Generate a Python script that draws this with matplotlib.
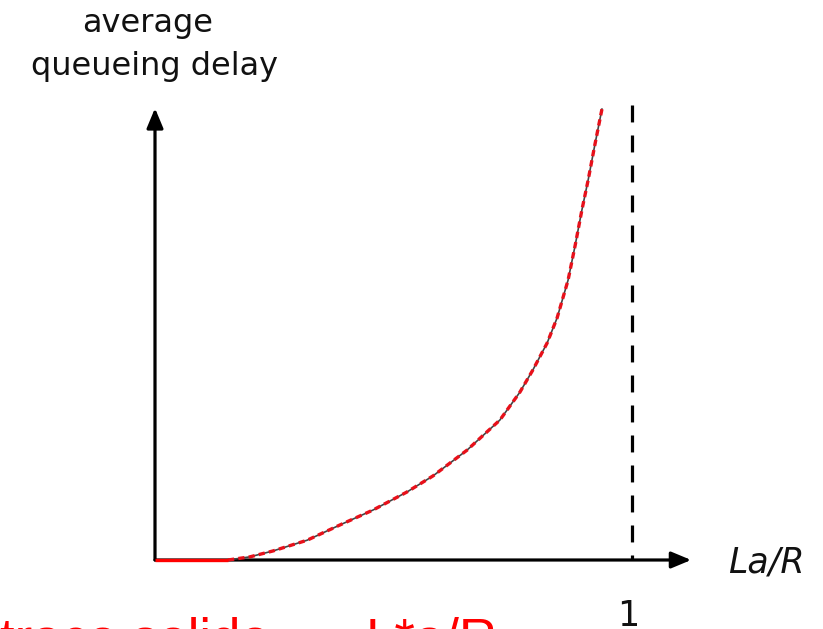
import matplotlib
matplotlib.use("Agg")
import matplotlib.pyplot as plt

plt.rcParams['lines.scale_dashes'] = False

# ---- data (normalized: x = La/R, y = average queueing delay) ----
curve_x = [0.153, 0.199, 0.247, 0.319, 0.388, 0.457, 0.528, 0.583, 0.654, 0.723,
           0.765, 0.792, 0.822, 0.843, 0.866, 0.881, 0.895, 0.908, 0.922, 0.937]
curve_y = [0.000, 0.007, 0.020, 0.044, 0.078, 0.111, 0.151, 0.187, 0.244, 0.311,
           0.373, 0.422, 0.482, 0.538, 0.622, 0.700, 0.778, 0.844, 0.922, 1.002]
flat_x = [0.0, 0.153]
flat_y = [0.0, 0.0]
asymptote_x = 1.0
y_axis_top = 1.004
x_axis_end = 1.124
dash_top = 1.011

ylabel_lines = ["average", "queueing delay"]
xlabel = "La/R"
tick_label = "1"
note_left = "traco solido"
note_right = "L*a/R"

W, H = 823, 629
fig = plt.figure(figsize=(W / 100, H / 100), dpi=100)
ax = fig.add_axes([0, 0, 1, 1])
ax.set_axis_off()
# origin at pixel (155, 560); x=1 at pixel 632; y=1 at pixel 110
ax.set_xlim(-155 / 477, (W - 155) / 477)
ax.set_ylim((560 - H) / 450, 560 / 450)

# axes with arrows
arrow_style = '-|>,head_length=0.6,head_width=0.25'
ax.annotate('', xy=(0, y_axis_top), xytext=(0, 0),
            arrowprops=dict(arrowstyle=arrow_style, lw=2.3, color='black',
                            mutation_scale=20, shrinkA=0, shrinkB=0))
ax.annotate('', xy=(x_axis_end, 0), xytext=(0, 0),
            arrowprops=dict(arrowstyle=arrow_style, lw=2.3, color='black',
                            mutation_scale=20, shrinkA=0, shrinkB=0))

# asymptote dashed line
ax.plot([asymptote_x, asymptote_x], [dash_top, 0], color='black', lw=2.3,
        linestyle=(0, (12.2, 9.4)), solid_capstyle='butt')

# curve: thin black with red dashes on top
ax.plot(curve_x, curve_y, color='#444444', lw=1.2, zorder=3)
ax.plot(curve_x, curve_y, color='#e8101a', lw=2.4, linestyle=(0, (4.5, 3.0)),
        zorder=4, dash_capstyle='butt')
ax.plot(flat_x, flat_y, color='#ff0000', lw=2.4, zorder=5, solid_capstyle='butt')

def fx(px):
    return px / W

def fy(py):
    return 1 - py / H

fig.text(fx(148), fy(32), ylabel_lines[0], ha='center', va='baseline',
         fontsize=23, family='DejaVu Sans', color='#111111')
fig.text(fx(155), fy(75), ylabel_lines[1], ha='center', va='baseline',
         fontsize=23, family='DejaVu Sans', color='#111111')
fig.text(fx(728), fy(573), xlabel, ha='left', va='baseline', fontsize=25,
         family='DejaVu Sans', style='italic', color='#111111')
fig.text(fx(628), fy(626), tick_label, ha='center', va='baseline', fontsize=25,
         family='DejaVu Sans', color='#111111')

fig.text(fx(0), fy(655), note_left, ha='left', va='baseline', fontsize=38,
         family='Liberation Sans', color='#ff0000')
fig.text(fx(366), fy(655), note_right, ha='left', va='baseline', fontsize=38,
         family='Liberation Sans', color='#ff0000')

fig.savefig('out.png', dpi=100, facecolor='white')
